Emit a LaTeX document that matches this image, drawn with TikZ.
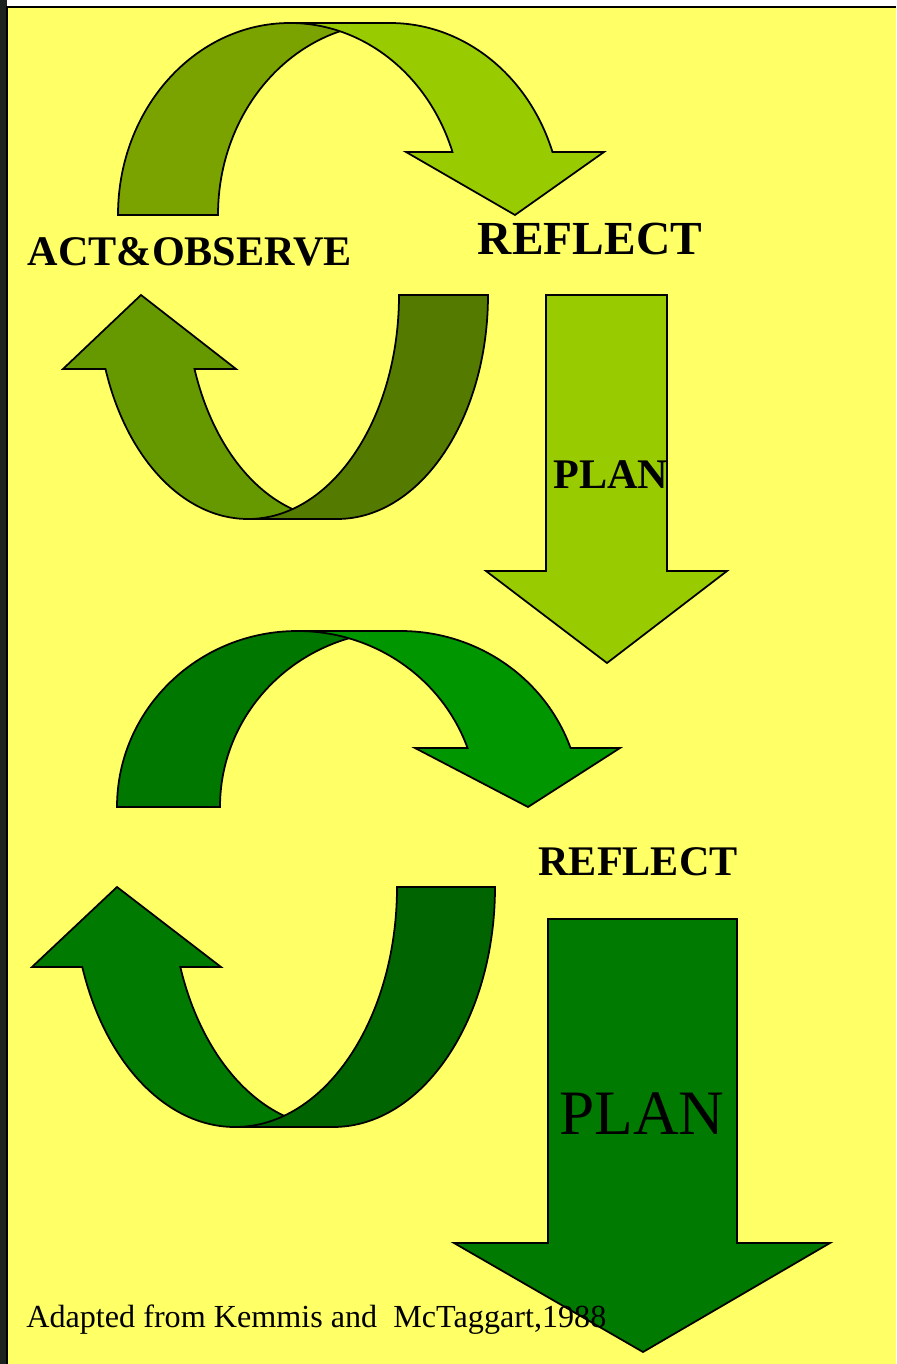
\documentclass[tikz,border=0pt]{standalone}
\usepackage{xcolor}
\usepackage{fontspec}
\setmainfont{Liberation Serif}
\usepackage{tikz}
\definecolor{slidecolor}{RGB}{255,255,102}
\definecolor{framecolor}{RGB}{28,34,30}
\definecolor{olivebackcolor}{RGB}{122,163,0}
\definecolor{olivecolor}{RGB}{153,204,0}
\definecolor{olivearrowcolor}{RGB}{102,153,0}
\definecolor{olivedarkcolor}{RGB}{84,122,0}
\definecolor{greenbackcolor}{RGB}{0,120,0}
\definecolor{greencolor}{RGB}{0,150,0}
\definecolor{greenarrowcolor}{RGB}{0,122,0}
\definecolor{greendarkcolor}{RGB}{0,100,0}

\begin{document}
\begin{tikzpicture}[
    x=0.02cm, y=-0.02cm,
    band/.style={draw=black, line width=1pt, line join=miter},
    cycletext/.style={anchor=base, inner sep=0pt, font=\bfseries\fontsize{24}{28}\selectfont}
]
    \useasboundingbox (0,0) rectangle (896,1364);
    % Slide
    \fill[white] (0,0) rectangle (896,1364);
    \fill[framecolor] (0,0) rectangle (7,1364);
    \fill[slidecolor] (7,7) rectangle (896,1364);
    \draw[line width=1.2pt] (7,1364) -- (7,7) -- (896,7);

    % First cycle: curved arrow down
    \draw[band, fill=olivebackcolor] (118,215) arc[start angle=180, end angle=270, x radius=172, y radius=192]
        -- (390,23) arc[start angle=270, end angle=180, x radius=172, y radius=192] -- cycle;
    \draw[band, fill=olivecolor] (290,23) arc[start angle=270, end angle=340.84, x radius=172, y radius=192]
        -- (406,152) -- (515,215) -- (604,152) -- (552.47,152)
        arc[start angle=340.84, end angle=270, x radius=172, y radius=192] -- cycle;

    % First cycle: curved arrow up
    \draw[band, fill=olivearrowcolor] (248,519) arc[start angle=90, end angle=160.71, x radius=151, y radius=224]
        -- (63,369) -- (141,295) -- (236,369) -- (194.5,369)
        arc[start angle=160.71, end angle=90, x radius=151, y radius=224] -- cycle;
    \draw[band, fill=olivedarkcolor] (248,519) arc[start angle=90, end angle=0, x radius=151, y radius=224]
        -- (488,295) arc[start angle=0, end angle=90, x radius=151, y radius=224] -- cycle;

    % First cycle: plan arrow
    \draw[band, fill=olivecolor] (546,295) -- (667,295) -- (667,571) -- (727,571) -- (607,663)
        -- (486,571) -- (546,571) -- cycle;

    % Second cycle: curved arrow down
    \draw[band, fill=greenbackcolor] (117,807) arc[start angle=180, end angle=270, x radius=180.5, y radius=176]
        -- (400.5,631) arc[start angle=270, end angle=180, x radius=180.5, y radius=176] -- cycle;
    \draw[band, fill=greencolor] (297.5,631) arc[start angle=270, end angle=340.41, x radius=180.5, y radius=176]
        -- (415,748) -- (528,807) -- (620,748) -- (570.55,748)
        arc[start angle=340.41, end angle=270, x radius=180.5, y radius=176] -- cycle;

    % Second cycle: curved arrow up
    \draw[band, fill=greenarrowcolor] (235,1127) arc[start angle=90, end angle=160.53, x radius=162, y radius=240]
        -- (32,967) -- (117,887) -- (221,967) -- (180.3,967)
        arc[start angle=160.53, end angle=90, x radius=162, y radius=240] -- cycle;
    \draw[band, fill=greendarkcolor] (235,1127) arc[start angle=90, end angle=0, x radius=162, y radius=240]
        -- (495,887) arc[start angle=0, end angle=90, x radius=162, y radius=240] -- cycle;

    % Second cycle: plan arrow
    \draw[band, fill=greenarrowcolor] (548,919) -- (737,919) -- (737,1243) -- (830,1243) -- (643,1352)
        -- (454,1243) -- (548,1243) -- cycle;

    % Labels
    \node[cycletext] (actobserve) at (190,266) {ACT\&OBSERVE};
    \node[cycletext, font=\bfseries\fontsize{27}{32}\selectfont] (reflecttop) at (590,255) {REFLECT};
    \node[cycletext] (plantop) at (611,488) {PLAN};
    \node[cycletext] (reflectlow) at (638,875) {REFLECT};
    \node[cycletext, font=\fontsize{36}{42}\selectfont] (planlow) at (642,1134) {PLAN};
    \node[anchor=base west, inner sep=0pt, font=\fontsize{18.3}{22}\selectfont] (source) at (26,1327) {Adapted from Kemmis and\ \ McTaggart,1988};
\end{tikzpicture}
\end{document}
